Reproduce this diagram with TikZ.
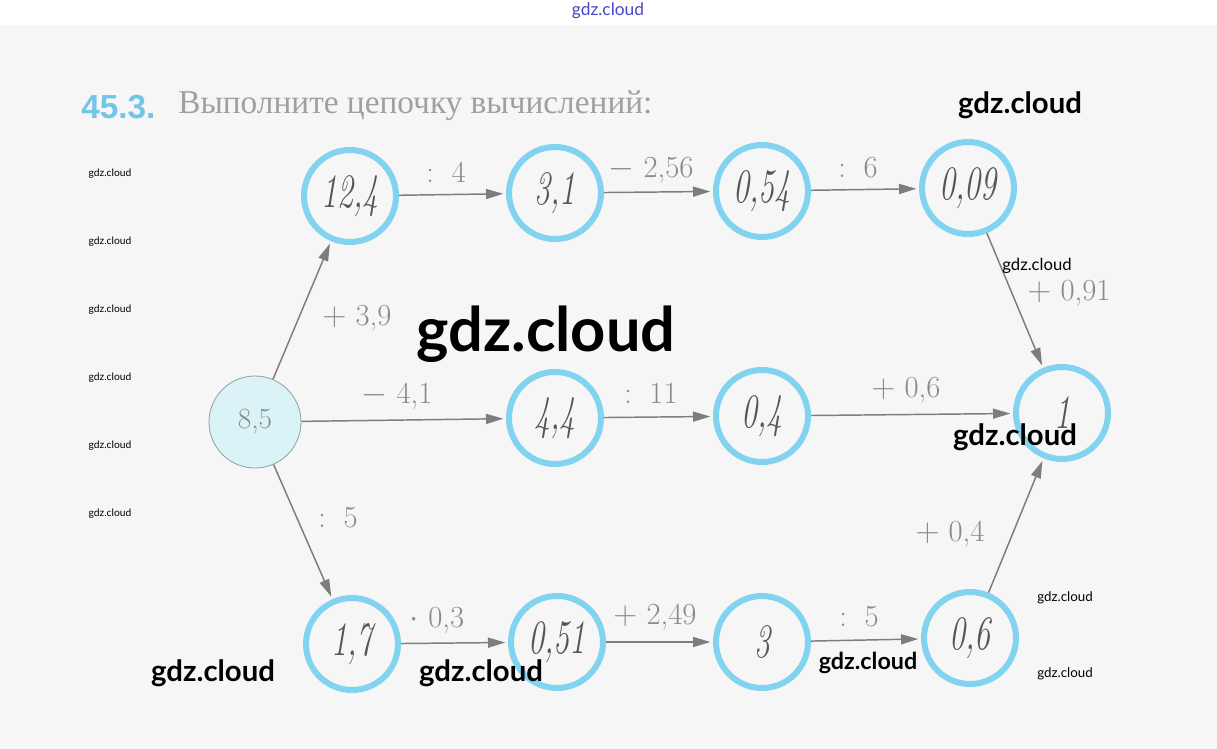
\documentclass[tikz,border=0pt]{standalone}
\usepackage{fontspec}
\usetikzlibrary{arrows.meta}
\newfontfamily\lato{Lato}
\newfontfamily\rusfont{Liberation Serif}
\newfontfamily\titlesans{Liberation Sans}
\definecolor{bgc}{HTML}{F6F6F6}
\definecolor{ringc}{HTML}{82D3EF}
\definecolor{startfill}{HTML}{D9F3F6}
\definecolor{startline}{HTML}{8FA0A2}
\definecolor{arrc}{HTML}{7D7D7D}
\definecolor{labc}{HTML}{8A8A8A}
\definecolor{handc}{HTML}{555555}
\definecolor{titlecyan}{HTML}{74C6E8}
\definecolor{titlegray}{HTML}{A0A0A0}
\definecolor{wmblue}{HTML}{4646C8}
\begin{document}
\begin{tikzpicture}[x=0.75pt,y=-0.75pt,
  ring/.style={circle, draw=ringc, line width=4.5pt, minimum size=69pt, inner sep=0pt,
    font=\fontsize{24}{24}\selectfont\itshape, text=handc},
  start/.style={circle, draw=startline, fill=startfill, line width=0.6pt, minimum size=69pt, inner sep=0pt,
    font=\fontsize{22}{22}\selectfont, text=labc},
  arr/.style={draw=arrc, line width=1.1pt, -{Triangle[length=13pt,width=7.5pt]}, shorten >=2pt},
  lab/.style={text=labc, font=\fontsize{23}{24}\selectfont, inner sep=0pt},
  wm/.style={text=black, inner sep=0pt}]
\fill[white] (0,0) rectangle (1217,25);
\fill[bgc] (0,25) rectangle (1217,749);
\useasboundingbox (0,0) rectangle (1217,749);

% title
\node[anchor=west, inner sep=0pt, text=titlecyan, font=\titlesans\bfseries\fontsize{25}{26}\selectfont] (num) at (81,107) {45.3.};
\node[anchor=west, inner sep=0pt, text=titlegray, font=\rusfont\fontsize{25}{26}\selectfont] (title) at (178,106) {Выполните цепочку вычислений:};

% nodes
\node[start] (s) at (255,422) {8,5};
\node[ring] (a1) at (350,196) {\scalebox{1}[1.5]{12,4}};
\node[ring] (a2) at (555,193) {\scalebox{1}[1.5]{3,1}};
\node[ring] (a3) at (762,191) {\scalebox{1}[1.5]{0,54}};
\node[ring] (a4) at (968,188) {\scalebox{1}[1.5]{0,09}};
\node[ring] (b1) at (555,418) {\scalebox{1}[1.5]{4,4}};
\node[ring] (b2) at (762,416) {\scalebox{1}[1.5]{0,4}};
\node[ring] (e) at (1062,413) {\scalebox{1}[1.5]{1}};
\node[ring] (c1) at (352,644) {\scalebox{1}[1.5]{1,7}};
\node[ring] (c2) at (557,642) {\scalebox{1}[1.5]{0,51}};
\node[ring] (c3) at (762,642) {\scalebox{1}[1.5]{3}};
\node[ring] (c4) at (970,638) {\scalebox{1}[1.5]{0,6}};

% connectors
\draw[arr] (s) -- (a1);
\draw[arr] (s) -- (b1);
\draw[arr] (s) -- (c1);
\draw[arr] (a1) -- (a2);
\draw[arr] (a2) -- (a3);
\draw[arr] (a3) -- (a4);
\draw[arr] (a4) -- (e);
\draw[arr] (b1) -- (b2);
\draw[arr] (b2) -- (e);
\draw[arr] (c1) -- (c2);
\draw[arr] (c2) -- (c3);
\draw[arr] (c3) -- (c4);
\draw[arr] (c4) -- (e);

% labels
\node[lab] (l1) at (446,172) {:\, 4};
\node[lab] (l2) at (651,170) {$-$ 2,56};
\node[lab] (l3) at (858,168) {:\, 6};
\node[lab] (l4) at (1069,293) {$+$ 0,91};
\node[lab] (l5) at (357,318) {$+$ 3,9};
\node[lab] (l6) at (397,396) {$-$ 4,1};
\node[lab] (l7) at (651,393) {:\, 11};
\node[lab] (l8) at (906,390) {$+$ 0,6};
\node[lab] (l9) at (338,518) {:\, 5};
\node[lab] (l10) at (437,620) {$\cdot$ 0,3};
\node[lab] (l11) at (655,617) {$+$ 2,49};
\node[lab] (l12) at (859,617) {:\, 5};
\node[lab] (l13) at (950,534) {$+$ 0,4};

% watermarks
\node[wm, text=wmblue, font=\lato\fontsize{13}{13}\selectfont] (w0) at (608,11) {gdz.cloud};
\node[wm, font=\lato\bfseries\fontsize{22}{22}\selectfont] (w1) at (1020,105) {gdz.cloud};
\node[wm, font=\lato\bfseries\fontsize{46}{46}\selectfont] (w2) at (546,334) {gdz.cloud};
\node[wm, font=\lato\fontsize{12.5}{13}\selectfont] (w3) at (1037,266) {gdz.cloud};
\node[wm, font=\lato\bfseries\fontsize{22}{22}\selectfont] (w4) at (1015,437) {gdz.cloud};
\node[wm, font=\lato\bfseries\fontsize{22}{22}\selectfont] (w5) at (213,673) {gdz.cloud};
\node[wm, font=\lato\bfseries\fontsize{22}{22}\selectfont] (w6) at (481,673) {gdz.cloud};
\node[wm, font=\lato\bfseries\fontsize{17.5}{18}\selectfont] (w7) at (868,663) {gdz.cloud};
\foreach \yy/\nm in {174/s1,242/s2,310/s3,378/s4,446/s5,514/s6}
  \node[wm, font=\lato\fontsize{7.7}{8}\selectfont] (\nm) at (110,\yy) {gdz.cloud};
\node[wm, font=\lato\fontsize{10}{10}\selectfont] (r1) at (1065,598) {gdz.cloud};
\node[wm, font=\lato\fontsize{10}{10}\selectfont] (r2) at (1065,674) {gdz.cloud};
\end{tikzpicture}
\end{document}
